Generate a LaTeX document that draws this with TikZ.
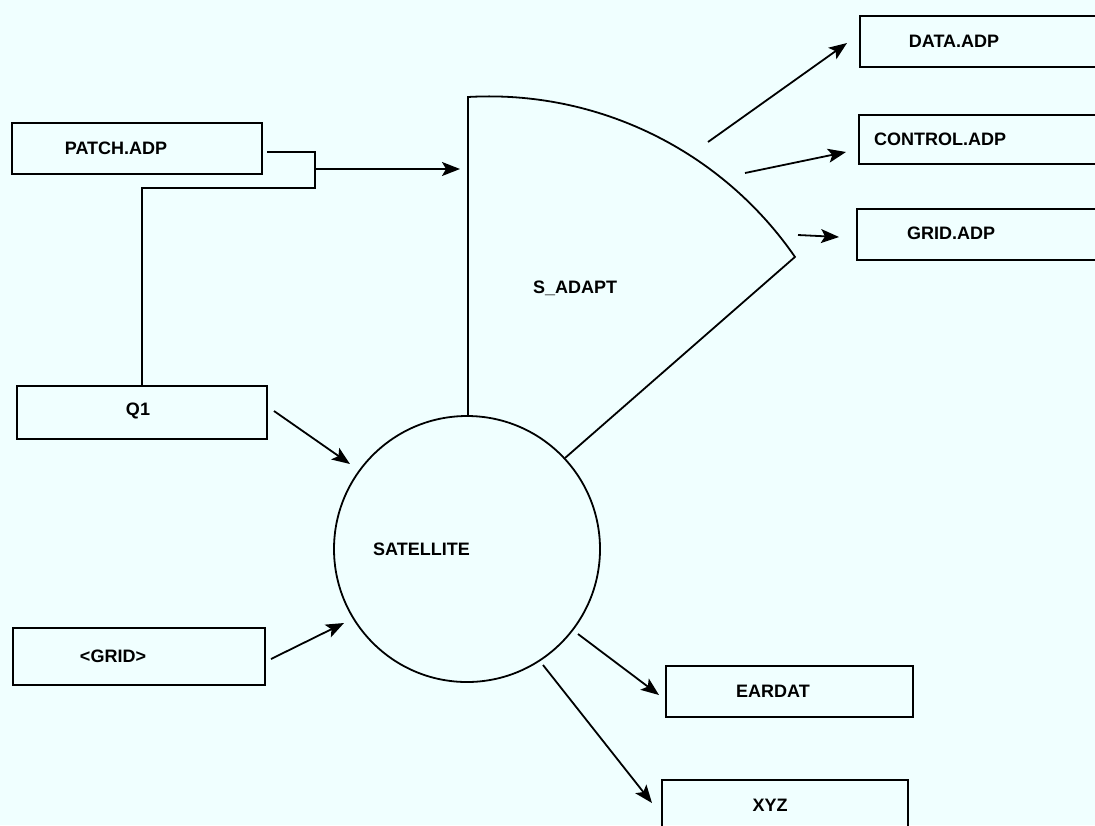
\documentclass[tikz,border=0pt]{standalone}
\usepackage{fontspec}
\setmainfont{Liberation Sans}
\usetikzlibrary{arrows.meta}
\definecolor{bg}{RGB}{240,255,255}
\begin{document}
\begin{tikzpicture}[x=0.5pt,y=-0.5pt,
  line width=0.9pt,
  font=\fontsize{9}{11}\selectfont\bfseries,
  box/.style={draw, rectangle, inner sep=0pt},
  arr/.style={-{Stealth[length=9pt,width=7pt,inset=2pt]}},
  ]
\fill[bg] (0,0) rectangle (1095,825);
\clip (0,0) rectangle (1095,825);
% boxes
\node[box, minimum width=125pt, minimum height=25.5pt, label={[xshift=-10.5pt]center:PATCH.ADP}] (patch) at (137,148.5) {};
\node[box, minimum width=125pt, minimum height=26.5pt, label={[xshift=-2pt,yshift=1pt]center:Q1}] (q1) at (142,412.5) {};
\node[box, minimum width=126pt, minimum height=28.5pt, label={[xshift=-13pt]center:<GRID>}] (grid) at (139,656.5) {};
\node[box, minimum width=130pt, minimum height=25.5pt, label={[xshift=-18pt]center:DATA.ADP}] (data) at (990,41.5) {};
\node[box, minimum width=130.5pt, minimum height=24.5pt, label={[xshift=-24.75pt]center:CONTROL.ADP}] (control) at (989.5,139.5) {};
\node[box, minimum width=131.5pt, minimum height=25.5pt, label={[xshift=-18.75pt,yshift=0.5pt]center:GRID.ADP}] (gridadp) at (988.5,234.5) {};
\node[box, minimum width=123.5pt, minimum height=25.5pt, label={[xshift=-8.25pt]center:EARDAT}] (eardat) at (789.5,691.5) {};
\node[box, minimum width=123pt, minimum height=25.5pt, label={[xshift=-7.5pt]center:XYZ}] (xyz) at (785,805.5) {};
% process circle
\node[draw, circle, minimum size=133pt, inner sep=0pt, label={[xshift=-22.75pt]center:SATELLITE}] (sat) at (467,549) {};
% S_ADAPT sector
\coordinate (sbase) at (468,416);
\coordinate (stop) at (468,97);
\coordinate (slow) at (565,458);
\draw (sbase) -- (stop) arc[start angle=-93.27, end angle=-34.6, radius=371.5] -- (slow);
\node (sadapt) at (575,288) {S\_ADAPT};
% connector coordinates
\coordinate (p1) at (267,152);
\coordinate (p2) at (315,152);
\coordinate (p3) at (315,188);
\coordinate (p4) at (142,188);
\coordinate (pj) at (315,169);
\coordinate (pin) at (460,169);
\coordinate (q1o) at (274,411);
\coordinate (q1i) at (350,464);
\coordinate (gro) at (271,659);
\coordinate (gri) at (344,623);
\coordinate (eao) at (578,634);
\coordinate (eai) at (659,695);
\coordinate (xyo) at (543,665);
\coordinate (xyi) at (652,803);
\coordinate (dao) at (708,142);
\coordinate (dai) at (847,43);
\coordinate (coo) at (745,173);
\coordinate (coi) at (846,152);
\coordinate (gao) at (798,235);
\coordinate (gai) at (839,237);
% connectors
\draw (p1) -- (p2) -- (p3) -- (p4) -- (q1.north -| p4);
\draw[arr] (pj) -- (pin);
\draw[arr] (q1o) -- (q1i);
\draw[arr] (gro) -- (gri);
\draw[arr] (eao) -- (eai);
\draw[arr] (xyo) -- (xyi);
\draw[arr] (dao) -- (dai);
\draw[arr] (coo) -- (coi);
\draw[arr] (gao) -- (gai);
\end{tikzpicture}
\end{document}
